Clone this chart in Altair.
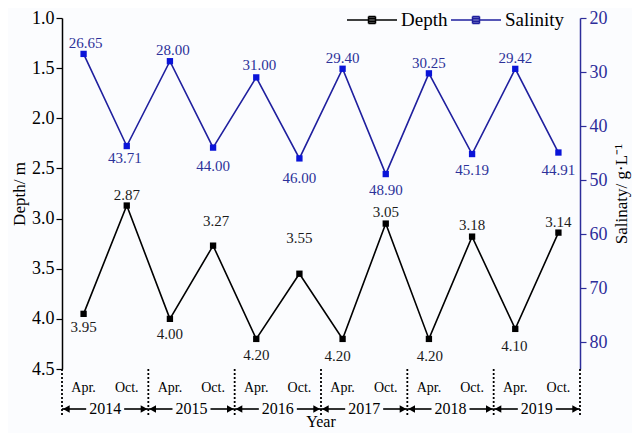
import altair as alt
import pandas as pd

# ---------------- data ----------------
years = ["2014", "2015", "2016", "2017", "2018", "2019"]
months = ["Apr.", "Oct."]
depth = [3.95, 2.87, 4.00, 3.27, 4.20, 3.55, 4.20, 3.05, 4.20, 3.18, 4.10, 3.14]
salinity = [26.65, 43.71, 28.00, 44.00, 31.00, 46.00, 29.40, 48.90, 30.25, 45.19, 29.42, 44.91]
series_names = ["Depth", "Salinity"]

# label offsets (style, in pixels)
depth_label_offsets = [(0, 13), (0, -11), (0, 15), (3, -25), (0, 16), (0, -36),
                       (-5, 17), (0, -12), (1, 17), (0, -12), (-1, 17), (0, -11)]
sal_label_offsets = [(2, -11), (-2, 12), (3, -11), (0, 18), (3, -12), (0, 20),
                     (0, -11), (0, 16), (0, -10), (0, 16), (0, -11), (0, 17)]

n = len(depth)
W, H = 518, 351
FONT = "Liberation Serif"
BLUE_LINE = "#1f1f9e"
BLUE_PT = "#0a14d8"
BLUE_AXIS = "#2d2d9a"
BLUE_TXT = "#2c3199"

df_d = pd.DataFrame({
    "i": list(range(n)),
    "value": depth,
    "label": [f"{v:.2f}" for v in depth],
    "series": series_names[0],
    "month": [months[k % 2] for k in range(n)],
})
df_s = pd.DataFrame({
    "i": list(range(n)),
    "value": salinity,
    "label": [f"{v:.2f}" for v in salinity],
    "series": series_names[1],
})

starts = [2 * k - 0.5 for k in range(len(years))]
ends = [s + 2 for s in starts]
centers = [s + 1 for s in starts]
gap = 0.44
df_y = pd.DataFrame({"year": years, "start": starts, "end": ends, "center": centers,
                     "lend": [c - gap for c in centers], "rstart": [c + gap for c in centers],
                     "tl": [s + 0.1 for s in starts], "tr": [e - 0.1 for e in ends]})
df_b = pd.DataFrame({"b": [starts[0]] + ends})
df_title = pd.DataFrame({"x": [(n - 1) / 2], "t": ["Year"]})

# ---------------- scales & axes ----------------
xs = alt.Scale(domain=[-0.5, n - 0.5], nice=False, zero=False)
x_ticks = [k / 2 - 0.5 for k in range(2 * n + 1)]
x_axis = alt.Axis(
    values=x_ticks, labels=False, tickSize=5, tickColor="black", tickWidth=1.2,
    domainColor="black", domainWidth=1.5, title=None, grid=False,
)
x_enc = alt.X("i:Q", scale=xs, axis=x_axis)
x_noaxis = alt.X("i:Q", scale=xs, axis=None)

ys_d = alt.Scale(domain=[1.0, 4.5], reverse=True, nice=False, zero=False)
d_axis = alt.Axis(
    values=[1.0 + 0.25 * k for k in range(15)],
    labelExpr="datum.value % 0.5 == 0 ? format(datum.value, '.1f') : ''",
    labelOverlap=False, labelFont=FONT, labelFontSize=18, labelColor="black",
    labelPadding=2,
    tickSize={"condition": {"test": "datum.value % 0.5 == 0", "value": 6}, "value": 4},
    tickColor="black", tickWidth=1.2, domainColor="black", domainWidth=1.5,
    title="Depth/ m", titleFont=FONT, titleFontSize=17, titleFontWeight="normal",
    titleColor="black", titlePadding=3, grid=False,
)
ys_s = alt.Scale(domain=[20, 85], reverse=True, nice=False, zero=False)
s_axis = alt.Axis(
    orient="right",
    values=list(range(20, 90, 5)),
    labelExpr="datum.value % 10 == 0 ? format(datum.value, 'd') : ''",
    labelOverlap=False, labelFont=FONT, labelFontSize=18, labelColor=BLUE_AXIS,
    labelPadding=3,
    tickSize={"condition": {"test": "datum.value % 10 == 0", "value": 6}, "value": 4},
    tickColor=BLUE_AXIS, tickWidth=1.2, domainColor=BLUE_AXIS, domainWidth=1.5,
    title="Salinaty/ g·L⁻¹", titleFont=FONT, titleFontSize=17, titleFontWeight="normal",
    titleColor="black", titleAngle=270, titleBaseline="top", titlePadding=6, grid=False,
)

legend_path = ("M-1,0H1M-0.14,-0.14H0.14M-0.14,-0.07H0.14M-0.14,0H0.14"
               "M-0.14,0.07H0.14M-0.14,0.14H0.14M-0.14,-0.14V0.14M0.14,-0.14V0.14")
stroke_scale = alt.Scale(domain=series_names, range=["black", BLUE_LINE])
stroke_enc = alt.Stroke(
    "series:N", scale=stroke_scale,
    legend=alt.Legend(
        orient="none", legendX=284, legendY=-24, direction="horizontal", title=None,
        symbolType=legend_path, symbolSize=2500, symbolStrokeWidth=1.5,
        labelFont=FONT, labelFontSize=19, labelColor="black", labelOffset=3,
        columnPadding=0, padding=0,
    ),
)

# ---------------- depth layer ----------------
bd = alt.Chart(df_d)
d_line = bd.mark_line(strokeWidth=1.6).encode(x=x_enc, y=alt.Y("value:Q", scale=ys_d, axis=d_axis), stroke=stroke_enc)
d_pts = bd.mark_square(size=40, opacity=1, color="black").encode(x=x_noaxis, y=alt.Y("value:Q", scale=ys_d))
d_labels = [
    bd.transform_filter(f"datum.i == {k}").mark_text(
        font=FONT, fontSize=15, color="#1a1a1a", dx=dx, dy=dy, baseline="middle"
    ).encode(x=x_noaxis, y=alt.Y("value:Q", scale=ys_d), text="label:N")
    for k, (dx, dy) in enumerate(depth_label_offsets)
]
month_text = bd.mark_text(font=FONT, fontSize=14, color="black", baseline="middle").encode(
    x=x_noaxis, y=alt.value(H + 19), text="month:N")

# decorations below the x axis
by = alt.Chart(df_y)
dotted = alt.Chart(df_b).mark_rule(strokeDash=[2, 2], strokeWidth=1.8, color="black").encode(
    x=alt.X("b:Q", scale=xs, axis=None), y=alt.value(H), y2=alt.value(H + 46))
arr_l = by.mark_rule(strokeWidth=1.6, color="black").encode(
    x=alt.X("start:Q", scale=xs, axis=None), x2="lend:Q", y=alt.value(H + 40))
arr_r = by.mark_rule(strokeWidth=1.6, color="black").encode(
    x=alt.X("rstart:Q", scale=xs, axis=None), x2="end:Q", y=alt.value(H + 40))
head_l = by.mark_point(shape="triangle-left", size=60, filled=True, opacity=1, color="black").encode(
    x=alt.X("tl:Q", scale=xs, axis=None), y=alt.value(H + 40))
head_r = by.mark_point(shape="triangle-right", size=60, filled=True, opacity=1, color="black").encode(
    x=alt.X("tr:Q", scale=xs, axis=None), y=alt.value(H + 40))
yr_text = by.mark_text(font=FONT, fontSize=16, color="black", baseline="middle").encode(
    x=alt.X("center:Q", scale=xs, axis=None), y=alt.value(H + 40), text="year:N")
x_title = alt.Chart(df_title).mark_text(font=FONT, fontSize=16, color="black", baseline="top").encode(
    x=alt.X("x:Q", scale=xs, axis=None), y=alt.value(H + 45), text="t:N")

depth_layer = alt.layer(d_line, d_pts, *d_labels, month_text, dotted, arr_l, arr_r,
                        head_l, head_r, yr_text, x_title)

# ---------------- salinity layer ----------------
bs = alt.Chart(df_s)
s_line = bs.mark_line(strokeWidth=1.6).encode(x=x_noaxis, y=alt.Y("value:Q", scale=ys_s, axis=s_axis), stroke=stroke_enc)
s_pts = bs.mark_square(size=40, opacity=1, color=BLUE_PT).encode(x=x_noaxis, y=alt.Y("value:Q", scale=ys_s))
s_labels = [
    bs.transform_filter(f"datum.i == {k}").mark_text(
        font=FONT, fontSize=15, color=BLUE_TXT, dx=dx, dy=dy, baseline="middle"
    ).encode(x=x_noaxis, y=alt.Y("value:Q", scale=ys_s), text="label:N")
    for k, (dx, dy) in enumerate(sal_label_offsets)
]
sal_layer = alt.layer(s_line, s_pts, *s_labels)

chart = alt.layer(depth_layer, sal_layer).resolve_scale(y="independent").properties(
    width=W, height=H,
    autosize=alt.AutoSizeParams(type="none"),
    padding={"left": 54, "top": 10, "right": 52, "bottom": 64},
    background="#fbfcfe",
).configure_view(stroke=None)

chart.save("out.html", embed_options={"renderer": "svg", "actions": False})
